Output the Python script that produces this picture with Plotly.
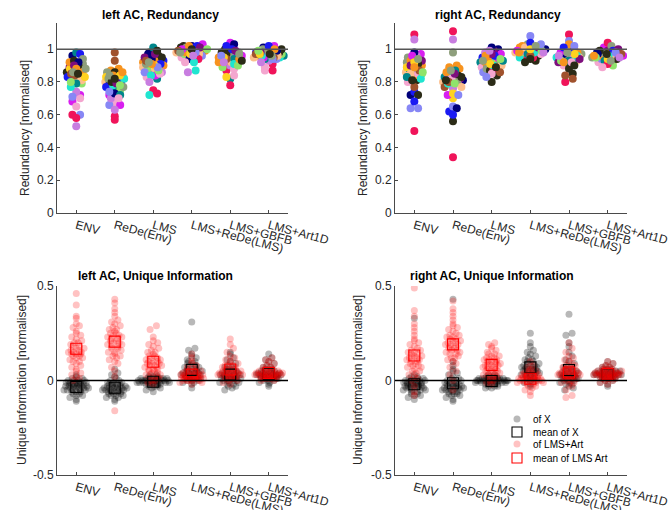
import numpy as np
import plotly.graph_objects as go

# ---------------- data ----------------
categories = ["ENV", "ReDe(Env)", "LMS", "LMS+ReDe(LMS)", "LMS+GBFB", "LMS+Art1D"]
yticks_red = [0, 0.2, 0.4, 0.6, 0.8, 1]
ytick_red_text = ["0", "0.2", "0.4", "0.6", "0.8", "1"]
yticks_uni = [-0.5, 0, 0.5]
ytick_uni_text = ["-0.5", "0", "0.5"]

# Redundancy, left AC (one value per unit, units in the same order in each category)
redL_ENV = [.87, .91, .86, .82, .96, .98, .72, .60, .70, .97, .85, .89, .84, .88, .79, .60, .92, .94, .90, .74,
            .86, .88, .93, .81, .92, .79, .68, .58, .65, .83, .77, .90, .85, .83, .80, .71, .88, .86, .85, .53]
redL_REDE = [.87, .86, .85, .80, .79, .76, .72, .59, .67, .77, .78, .80, .98, .83, .75, .66, .88, .82, .86, .70,
             .84, .77, .80, .83, .73, .72, .66, .57, .70, .81, .82, .79, .93, .84, .78, .74, .86, .84, .82, .63]
redL_LMS = [.92, .96, .98, .89, .97, 1.01, .87, .75, .83, .93, .72, .95, .90, .92, .88, .86, .90, .94, .96, .86,
            .93, .91, .95, .88, .94, .82, .84, .73, .85, .91, .84, .97, .93, .90, .87, .89, .91, .92, .99, .80]
redL_LMSREDE = [.99, 1.00, 1.01, .98, 1.02, .99, 1.03, .96, .95, 1.01, .87, 1.00, .98, .99, .97, .96, 1.00, .99, 1.02, .86,
                .98, 1.01, .99, .97, .94, .95, 1.00, .94, .92, 1.02, .92, 1.01, .99, .97, 1.00, .98, 1.02, .98, 1.00, .96]
redL_GBFB = [.95, .97, 1.00, .94, .99, .82, 1.04, .87, .84, 1.02, .93, .96, .91, .83, .89, .95, .92, .96, .98, .90,
             .93, .98, .97, .92, 1.03, .94, .96, .78, .88, 1.00, .91, .99, .94, .95, .90, .96, .94, .97, .93, .92]
redL_ART = [.96, .99, 1.00, .95, 1.01, .96, 1.02, .91, .87, .98, .95, .99, .97, .96, .97, .94, .98, .97, 1.00, .93,
            .97, 1.00, .98, .96, .99, .94, .95, .87, .89, 1.02, .96, .98, .95, .97, .99, .94, 1.00, .96, .97, .92]

# Redundancy, right AC
redR_ENV = [.90, .92, .81, .86, .72, .88, .97, 1.09, .80, .74, .87, .93, .77, .89, .85, .64, .84, .95, .72, .96,
            .93, .88, .91, .85, .98, .83, .96, .50, .85, .68, .82, .90, .87, .92, .86, .64, .89, .94, .81, 1.06]
redR_REDE = [.88, .98, .56, .80, .81, .83, .85, 1.11, .79, .62, .84, .82, .77, .70, .78, .65, .90, .81, .84, .76,
             .86, .80, .83, .77, .64, .87, .72, .34, .82, .60, .79, .85, .80, .73, .79, .72, .89, .87, .81, 1.06]
redR_LMS = [.93, .96, .80, .88, 1.00, .92, .97, .91, .89, .95, .92, .99, .90, .94, .93, .86, .94, .91, .84, .98,
            .92, .88, .87, .90, 1.01, .93, .95, .88, .85, .96, .90, .97, .86, .91, .94, .83, .96, .93, .89, .99]
redR_LMSREDE = [1.01, 1.03, .93, .98, 1.00, .99, .97, .96, .98, 1.02, .95, 1.00, .97, .99, .98, 1.08, 1.02, 1.01, .92, .99,
                1.00, .99, .96, 1.01, 1.00, .97, .99, .95, .97, 1.04, .98, 1.01, .96, 1.00, .99, 1.03, .98, 1.02, .94, .98]
redR_GBFB = [.97, 1.00, .85, .93, .96, .94, .98, 1.09, .90, .99, .95, .92, .82, .94, .96, 1.05, 1.03, .97, .88, .95,
             .98, .96, .91, .95, .97, .93, .99, .80, .92, 1.01, .96, .94, .84, .97, .93, 1.02, .92, .98, .90, .96]
redR_ART = [.97, .95, 1.00, .93, .98, .96, 1.01, 1.04, .92, .97, .95, .99, .96, .95, .90, .94, .98, 1.02, .94, .97,
            .96, .98, .99, .95, .97, .93, .96, .91, .89, .99, .96, 1.00, .97, .94, .95, .98, .96, .93, .97, .95]

# Unique information, left AC: "of X"
uxL_ENV = [-.11, -.09, -.08, -.08, -.07, -.07, -.06, -.06, -.06, -.05, -.05, -.05, -.05, -.04, -.04, -.04, -.04, -.04, -.03, -.03, -.03, -.03, -.03,
           -.03, -.02, -.02, -.02, -.02, -.02, -.02, -.01, -.01, -.01, -.01, -.01, .00, .00, .00, .00, .01, .01, .02, .03, -.10, -.05]
uxL_REDE = [-.11, -.10, -.09, -.09, -.08, -.08, -.07, -.07, -.07, -.06, -.06, -.06, -.06, -.05, -.05, -.05, -.05, -.05, -.04, -.04, -.04, -.04, -.04,
            -.04, -.03, -.03, -.03, -.03, -.03, -.02, -.02, -.02, -.02, -.01, -.01, -.01, .00, .00, .01, .02, .03, .04, .06, -.08, -.06]
uxL_LMS = [-.06, -.05, -.04, -.04, -.03, -.03, -.03, -.02, -.02, -.02, -.02, -.02, -.01, -.01, -.01, -.01, -.01, -.01, -.01, .00, .00, .00, .00,
           .00, .00, .00, .00, .00, .00, .01, .01, .01, .01, .01, .01, .01, .02, .02, .02, .03, .03, -.01, .00, .00, -.02]
uxL_LMSREDE = [-.04, -.02, -.01, -.01, .00, .00, .00, .01, .01, .01, .01, .02, .02, .02, .02, .03, .03, .03, .03, .04, .04, .04, .04,
               .05, .05, .05, .06, .06, .06, .07, .07, .08, .08, .09, .09, .10, .10, .11, .12, .13, .14, .16, .17, .31, .05]
uxL_GBFB = [-.05, -.04, -.03, -.03, -.02, -.02, -.01, -.01, -.01, .00, .00, .00, .00, .01, .01, .01, .01, .01, .02, .02, .02, .02, .03,
            .03, .03, .03, .04, .04, .04, .05, .05, .05, .06, .06, .07, .07, .08, .09, .10, .11, .12, .14, .15, .02, .03]
uxL_ART = [-.03, -.02, -.01, -.01, .00, .00, .00, .01, .01, .01, .01, .02, .02, .02, .02, .02, .02, .03, .03, .03, .03, .03, .03,
           .03, .04, .04, .04, .04, .04, .05, .05, .05, .06, .06, .07, .07, .08, .09, .10, .11, .12, .14, .02, .03, .01]

# Unique information, left AC: "of LMS+Art"
uaL_ENV = [.00, .02, .03, .05, .06, .07, .08, .09, .10, .10, .11, .12, .12, .13, .13, .14, .14, .14, .15, .15, .15, .16, .16,
           .17, .17, .18, .18, .19, .20, .20, .21, .22, .23, .24, .25, .26, .28, .29, .30, .33, .34, .40, .46, .01, .04]
uaL_REDE = [-.16, .02, .05, .07, .09, .10, .11, .12, .13, .14, .15, .15, .16, .17, .17, .18, .18, .19, .19, .20, .20, .21, .21,
            .22, .22, .23, .23, .24, .25, .25, .26, .27, .28, .29, .30, .31, .32, .34, .36, .38, .41, .43, .13, .24, .27]
uaL_LMS = [-.02, -.01, .00, .01, .02, .02, .03, .04, .04, .05, .05, .06, .06, .07, .07, .08, .08, .08, .09, .09, .10, .10, .10,
           .11, .11, .12, .12, .13, .13, .14, .15, .15, .16, .17, .18, .19, .20, .21, .23, .27, .29, .00, .03, .06, .09]
uaL_LMSREDE = [-.02, -.01, -.01, .00, .00, .00, .00, .00, .01, .01, .01, .01, .01, .01, .01, .02, .02, .02, .02, .02, .02, .02, .03,
               .03, .03, .03, .03, .03, .04, .04, .04, .04, .05, .05, .05, .06, .06, .07, .08, .09, .10, .12, .14, .00, .02]
uaL_GBFB = [-.02, -.01, .00, .00, .01, .01, .01, .02, .02, .02, .02, .03, .03, .03, .03, .03, .04, .04, .04, .04, .05, .05, .05,
            .05, .06, .06, .06, .07, .07, .07, .08, .08, .09, .09, .10, .11, .12, .13, .15, .17, .19, .22, .04, .05, .03]
uaL_ART = [.00, .00, .01, .01, .01, .01, .02, .02, .02, .02, .02, .02, .02, .03, .03, .03, .03, .03, .03, .03, .03, .04, .04,
           .04, .04, .04, .04, .05, .05, .05, .05, .06, .06, .06, .07, .07, .08, .09, .10, .11, .12, .01, .02, .03, .04]

# Unique information, right AC: "of X"
uxR_ENV = [-.10, -.09, -.08, -.07, -.07, -.06, -.06, -.05, -.05, -.05, -.04, -.04, -.04, -.04, -.03, -.03, -.03, -.03, -.03, -.02, -.02, -.02, -.02,
           -.02, -.02, -.01, -.01, -.01, -.01, -.01, .00, .00, .00, .00, .00, .01, .01, .01, .02, .02, .03, .33, -.08, -.05, -.03]
uxR_REDE = [-.11, -.10, -.09, -.08, -.08, -.07, -.07, -.06, -.06, -.06, -.05, -.05, -.05, -.05, -.04, -.04, -.04, -.04, -.03, -.03, -.03, -.03, -.02,
            -.02, -.02, -.02, -.01, -.01, -.01, .00, .00, .00, .01, .01, .02, .03, .04, .05, .06, .08, .10, .43, -.07, -.04, -.02]
uxR_LMS = [-.04, -.04, -.03, -.03, -.03, -.02, -.02, -.02, -.02, -.01, -.01, -.01, -.01, -.01, -.01, .00, .00, .00, .00, .00, .00, .00, .00,
           .00, .00, .00, .01, .01, .01, .01, .01, .01, .01, .02, .02, .02, .03, .03, .00, -.01, .01, .00, -.02, .02, .00]
uxR_LMSREDE = [-.03, -.02, -.01, .00, .00, .01, .01, .02, .02, .03, .03, .03, .04, .04, .04, .05, .05, .05, .06, .06, .06, .07, .07,
               .07, .08, .08, .08, .09, .09, .10, .10, .11, .11, .12, .13, .14, .15, .16, .18, .20, .25, .05, .06, .07, .02]
uxR_GBFB = [-.05, -.04, -.03, -.02, -.02, -.01, -.01, .00, .00, .00, .01, .01, .01, .01, .02, .02, .02, .02, .03, .03, .03, .03, .04,
            .04, .04, .05, .05, .05, .06, .06, .07, .07, .08, .09, .10, .11, .13, .15, .18, .20, .24, .25, .35, .02, .01]
uxR_ART = [-.03, -.02, -.01, .00, .00, .01, .01, .01, .02, .02, .02, .02, .02, .03, .03, .03, .03, .03, .03, .03, .04, .04, .04,
           .04, .04, .05, .05, .05, .05, .06, .06, .06, .07, .07, .08, .09, .10, .02, .03, .04, .01, .03, .02, .04, .05]

# Unique information, right AC: "of LMS+Art"
uaR_ENV = [-.08, -.06, -.03, .00, .02, .03, .04, .05, .06, .07, .07, .08, .09, .09, .10, .10, .11, .11, .12, .12, .12, .13, .13,
           .14, .14, .15, .15, .16, .16, .17, .18, .19, .20, .21, .22, .24, .26, .28, .30, .34, .37, .49, .01, .05, .08]
uaR_REDE = [-.05, .00, .03, .05, .07, .09, .10, .11, .12, .13, .14, .15, .15, .16, .16, .17, .17, .18, .18, .19, .19, .20, .20,
            .21, .21, .22, .22, .23, .24, .24, .25, .26, .27, .28, .29, .30, .32, .34, .36, .38, .42, .14, .19, .23, .12]
uaR_LMS = [-.02, -.01, .00, .01, .02, .02, .03, .03, .04, .04, .05, .05, .06, .06, .07, .07, .08, .08, .08, .09, .09, .09, .10,
           .10, .10, .11, .11, .12, .12, .13, .13, .14, .14, .15, .16, .17, .18, .19, .20, .00, .03, .06, .08, .11, .05]
uaR_LMSREDE = [-.08, -.06, -.05, -.04, -.03, -.03, -.02, -.02, -.01, -.01, -.01, .00, .00, .00, .00, .00, .00, .01, .01, .01, .01, .01, .01,
               .02, .02, .02, .02, .02, .03, .03, .03, .03, .04, .04, .05, .05, .06, .07, .08, .10, .00, .01, .02, -.01, .00]
uaR_GBFB = [-.09, -.08, -.05, -.03, -.02, -.01, -.01, .00, .00, .01, .01, .01, .02, .02, .02, .03, .03, .03, .03, .04, .04, .04, .04,
            .05, .05, .05, .06, .06, .06, .07, .07, .08, .08, .09, .10, .11, .12, .13, .15, .17, .20, .03, .04, .05, .02]
uaR_ART = [-.02, -.01, .00, .00, .01, .01, .01, .02, .02, .02, .02, .02, .03, .03, .03, .03, .03, .03, .03, .04, .04, .04, .04,
           .04, .05, .05, .05, .05, .06, .06, .06, .07, .07, .08, .09, .10, .02, .03, .04, .01, .03, .02, .04, .05, .03]

redL = [redL_ENV, redL_REDE, redL_LMS, redL_LMSREDE, redL_GBFB, redL_ART]
redR = [redR_ENV, redR_REDE, redR_LMS, redR_LMSREDE, redR_GBFB, redR_ART]
uxL = [uxL_ENV, uxL_REDE, uxL_LMS, uxL_LMSREDE, uxL_GBFB, uxL_ART]
uaL = [uaL_ENV, uaL_REDE, uaL_LMS, uaL_LMSREDE, uaL_GBFB, uaL_ART]
uxR = [uxR_ENV, uxR_REDE, uxR_LMS, uxR_LMSREDE, uxR_GBFB, uxR_ART]
uaR = [uaR_ENV, uaR_REDE, uaR_LMS, uaR_LMSREDE, uaR_GBFB, uaR_ART]

# ---------------- styles ----------------
unit_palette = ['#F7931E', '#8E9F7C', '#2B2B17', '#FDBF8C', '#00007A', '#00868B', '#D81EF0', '#F0145A',
                '#F4A6CF', '#1A1AF2', '#1FE5D0', '#7D0E7D', '#A0522D', '#FFD21F', '#8FE36B', '#8787F5',
                '#F7931E', '#8E9F7C', '#2B2B17', '#C87DE0']
FONT = "Liberation Sans, Arial, Helvetica, sans-serif"
TXT = '#262626'
W, H = 669, 510


def swarm(groups, bin_w, half_w):
    """plotSpread-like horizontal spreading of points inside value bins."""
    binned = []
    for g in groups:
        v = np.asarray(g, dtype=float)
        b = np.round(v / bin_w).astype(int)
        binned.append((v, b))
    maxc = max(np.unique(b, return_counts=True)[1].max() for _, b in binned)
    offs = []
    for v, b in binned:
        off = np.zeros(len(v))
        for bb in np.unique(b):
            idx = np.where(b == bb)[0]
            idx = idx[np.argsort(v[idx], kind='stable')]
            k = len(idx)
            if k < 2:
                continue
            w = half_w * np.sqrt((k - 1) / max(maxc - 1, 1))
            pos = np.linspace(-w, w, k)
            order = np.argsort((np.arange(k) * 0.6180339887) % 1.0)
            off[idx] = pos[order]
        offs.append(off)
    return offs


fig = go.Figure()

# axis geometry in pixels
panels = {
    'TL': dict(x=(57, 288), y=(23, 213), ax=''),
    'TR': dict(x=(395, 627), y=(23, 213), ax='2'),
    'BL': dict(x=(57, 288), y=(286, 475), ax='3'),
    'BR': dict(x=(395, 627), y=(286, 475), ax='4'),
}


def add_redundancy(groups, ax):
    offs = swarm(groups, 0.03, 0.40)
    xs, ys, cs = [], [], []
    for gi, (g, o) in enumerate(zip(groups, offs)):
        for ui, val in enumerate(g):
            xs.append(gi + 1 + o[ui])
            ys.append(val)
            cs.append(unit_palette[ui % len(unit_palette)])
    fig.add_trace(go.Scatter(x=xs, y=ys, mode='markers', xaxis='x' + ax, yaxis='y' + ax,
                             marker=dict(size=8, color=cs, line=dict(width=0)),
                             showlegend=False, hoverinfo='y'))


def add_unique(gx, ga, ax):
    offs = swarm(gx + ga, 0.02, 0.42)
    ox, oa = offs[:6], offs[6:]
    xx, yx, xa, ya = [], [], [], []
    for gi in range(6):
        xx += list(gi + 1 + ox[gi]); yx += list(gx[gi])
        xa += list(gi + 1 + oa[gi]); ya += list(ga[gi])
    fig.add_trace(go.Scatter(x=xx, y=yx, mode='markers', xaxis='x' + ax, yaxis='y' + ax,
                             marker=dict(size=7, color='rgba(0,0,0,0.28)', line=dict(width=0)),
                             showlegend=False, hoverinfo='y'))
    fig.add_trace(go.Scatter(x=xa, y=ya, mode='markers', xaxis='x' + ax, yaxis='y' + ax,
                             marker=dict(size=7, color='rgba(255,0,0,0.24)', line=dict(width=0)),
                             showlegend=False, hoverinfo='y'))
    cat_x = list(range(1, 7))
    fig.add_trace(go.Scatter(x=cat_x, y=[float(np.mean(g)) for g in gx], mode='markers',
                             xaxis='x' + ax, yaxis='y' + ax,
                             marker=dict(symbol='square-open', size=11, color='black', line=dict(width=1.1)),
                             showlegend=False, hoverinfo='y'))
    fig.add_trace(go.Scatter(x=cat_x, y=[float(np.mean(g)) for g in ga], mode='markers',
                             xaxis='x' + ax, yaxis='y' + ax,
                             marker=dict(symbol='square-open', size=11, color='red', line=dict(width=1.1)),
                             showlegend=False, hoverinfo='y'))


add_redundancy(redL, '')
add_redundancy(redR, '2')
add_unique(uxL, uaL, '3')
add_unique(uxR, uaR, '4')

layout = dict(width=W, height=H, margin=dict(l=0, r=0, t=0, b=0), autosize=False,
              paper_bgcolor='white', plot_bgcolor='white', showlegend=False,
              font=dict(family=FONT, size=12, color=TXT))

for key, p in panels.items():
    ax = p['ax']
    xdom = [p['x'][0] / W, p['x'][1] / W]
    ydom = [1 - p['y'][1] / H, 1 - p['y'][0] / H]
    is_red = key in ('TL', 'TR')
    common = dict(showline=True, linecolor='#4a4a4a', linewidth=1, ticks='inside', ticklen=3,
                  tickcolor='#4a4a4a', showgrid=False, zeroline=False,
                  tickfont=dict(family=FONT, size=12, color=TXT))
    layout['xaxis' + ax] = dict(common, domain=xdom, range=[0.5, 6.5], tickmode='array',
                                tickvals=list(range(1, 7)), ticktext=categories, tickangle=15,
                                anchor='y' + ax, automargin=False, ticklabeloverflow='allow')
    if is_red:
        layout['yaxis' + ax] = dict(common, domain=ydom, range=[0, 1.16], tickmode='array',
                                    tickvals=yticks_red, ticktext=ytick_red_text,
                                    anchor='x' + ax, automargin=False)
    else:
        layout['yaxis' + ax] = dict(common, domain=ydom, range=[-0.5, 0.5], tickmode='array',
                                    tickvals=yticks_uni, ticktext=ytick_uni_text,
                                    anchor='x' + ax, automargin=False)

shapes = []
for ax, yv, col in [('', 1, '#555555'), ('2', 1, '#555555'), ('3', 0, 'black'), ('4', 0, 'black')]:
    xr = 'x' if ax == '' else 'x' + ax
    yr = 'y' if ax == '' else 'y' + ax
    shapes.append(dict(type='line', xref=xr, yref=yr, x0=0.5, x1=6.5, y0=yv, y1=yv,
                       line=dict(color=col, width=1.5), layer='above'))

annotations = []
titles = [("left AC, Redundancy", 160, 15), ("right AC, Redundancy", 498, 15),
          ("left AC, Unique Information", 155, 276), ("right AC, Unique Information", 492, 276)]
for t, px, py in titles:
    annotations.append(dict(text='<b>' + t + '</b>', x=px / W, y=1 - py / H, xref='paper', yref='paper',
                            showarrow=False, xanchor='center', yanchor='middle',
                            font=dict(family=FONT, size=12, color='black')))
ylabels = [("Redundancy [normalised]", 25, 128), ("Redundancy [normalised]", 363, 128),
           ("Unique Information [normalised]", 22, 380), ("Unique Information [normalised]", 358, 380)]
for t, px, py in ylabels:
    annotations.append(dict(text=t, x=px / W, y=1 - py / H, xref='paper', yref='paper', textangle=-90,
                            showarrow=False, xanchor='center', yanchor='middle',
                            font=dict(family=FONT, size=12, color=TXT)))

# legend (bottom-right panel)
leg_x_marker, leg_x_text = 517, 531
legend_items = [("of X", 419, 'dot', 'rgba(0,0,0,0.28)'),
                ("mean of X", 432, 'sq', 'black'),
                ("of LMS+Art", 444, 'dot', 'rgba(255,0,0,0.24)'),
                ("mean of LMS Art", 458, 'sq', 'red')]
for label, py, kind, col in legend_items:
    if kind == 'dot':
        r = 3.5
        shapes.append(dict(type='circle', xref='paper', yref='paper',
                           x0=(leg_x_marker - r) / W, x1=(leg_x_marker + r) / W,
                           y0=1 - (py + r) / H, y1=1 - (py - r) / H,
                           fillcolor=col, line=dict(width=0)))
    else:
        r = 5
        shapes.append(dict(type='rect', xref='paper', yref='paper',
                           x0=(leg_x_marker - r) / W, x1=(leg_x_marker + r) / W,
                           y0=1 - (py + r) / H, y1=1 - (py - r) / H,
                           fillcolor='rgba(0,0,0,0)', line=dict(width=1.1, color=col)))
    annotations.append(dict(text=label, x=leg_x_text / W, y=1 - py / H, xref='paper', yref='paper',
                            showarrow=False, xanchor='left', yanchor='middle',
                            font=dict(family=FONT, size=10, color='black')))

layout['shapes'] = shapes
layout['annotations'] = annotations
fig.update_layout(**layout)
fig.write_html("out.html", config={'displayModeBar': False},
               post_script="document.body.style.margin='0';document.body.style.padding='0';"
                           "document.body.style.overflow='hidden';")
